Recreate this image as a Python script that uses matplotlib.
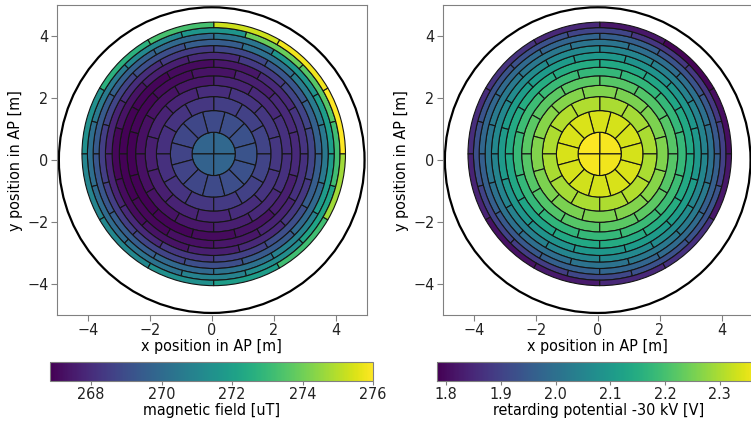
import numpy as np
import matplotlib
matplotlib.use("Agg")
import matplotlib.pyplot as plt
from matplotlib.patches import Wedge, Circle
from matplotlib.collections import PatchCollection
from matplotlib import font_manager

# ---------------- data (per detector pixel) ----------------
# bullseye: 4 quadrants (0-90, 90-180, 180-270, 270-360 deg)
# rings 1..12: 12 segments each, counter-clockwise starting at the ring's offset angle
B_bullseye = [269.9, 269.8, 269.7, 269.8]
B_rings = [
    [269.1, 269.0, 268.9, 268.8, 268.8, 268.7, 268.7, 268.8, 268.9, 269.0, 269.1, 269.2],
    [268.7, 268.6, 268.5, 268.3, 268.2, 268.1, 268.1, 268.2, 268.3, 268.4, 268.6, 268.7],
    [268.3, 268.2, 268.0, 267.8, 267.7, 267.6, 267.6, 267.7, 267.8, 268.0, 268.2, 268.3],
    [268.1, 267.9, 267.7, 267.4, 267.3, 267.2, 267.2, 267.3, 267.4, 267.6, 267.9, 268.1],
    [267.9, 267.6, 267.3, 267.1, 266.95, 266.9, 266.9, 266.95, 267.1, 267.3, 267.6, 267.9],
    [268.2, 267.9, 267.4, 267.1, 266.95, 266.9, 266.9, 267.0, 267.2, 267.4, 267.7, 268.1],
    [268.7, 268.4, 267.9, 267.6, 267.3, 267.0, 267.1, 267.3, 267.6, 267.9, 268.3, 268.7],
    [269.6, 269.3, 268.8, 268.4, 268.0, 267.7, 267.7, 267.9, 268.3, 268.6, 269.0, 269.5],
    [270.6, 270.2, 269.5, 269.0, 268.7, 268.5, 268.5, 268.7, 269.0, 269.4, 269.9, 270.5],
    [271.9, 271.6, 270.4, 269.9, 269.6, 269.4, 269.3, 269.5, 269.9, 270.3, 270.9, 271.8],
    [273.6, 273.9, 271.6, 271.1, 270.6, 270.1, 270.0, 270.3, 270.9, 271.3, 272.2, 273.2],
    [276.0, 275.8, 275.3, 273.3, 272.7, 271.4, 271.0, 271.1, 271.4, 271.9, 273.2, 274.7],
]

U_bullseye = [2.366, 2.370, 2.366, 2.362]
U_rings = [
    [2.335, 2.335, 2.338, 2.340, 2.340, 2.338, 2.335, 2.332, 2.335, 2.338, 2.340, 2.335],
    [2.298, 2.295, 2.300, 2.304, 2.306, 2.302, 2.298, 2.295, 2.298, 2.302, 2.306, 2.300],
    [2.258, 2.255, 2.260, 2.264, 2.266, 2.262, 2.258, 2.255, 2.258, 2.262, 2.266, 2.260],
    [2.218, 2.214, 2.218, 2.224, 2.226, 2.222, 2.218, 2.213, 2.218, 2.223, 2.226, 2.218],
    [2.178, 2.172, 2.178, 2.184, 2.188, 2.182, 2.176, 2.170, 2.178, 2.184, 2.188, 2.180],
    [2.138, 2.130, 2.138, 2.145, 2.150, 2.143, 2.136, 2.128, 2.137, 2.145, 2.150, 2.140],
    [2.095, 2.088, 2.098, 2.105, 2.110, 2.104, 2.095, 2.086, 2.096, 2.105, 2.110, 2.098],
    [2.048, 2.040, 2.052, 2.062, 2.068, 2.060, 2.050, 2.040, 2.052, 2.062, 2.068, 2.055],
    [2.000, 1.995, 2.010, 2.020, 2.025, 2.015, 2.005, 1.995, 2.008, 2.020, 2.025, 2.005],
    [1.945, 1.935, 1.960, 1.975, 1.985, 1.978, 1.960, 1.945, 1.962, 1.975, 1.985, 1.960],
    [1.880, 1.878, 1.905, 1.930, 1.935, 1.925, 1.900, 1.890, 1.910, 1.930, 1.935, 1.895],
    [1.805, 1.790, 1.820, 1.850, 1.870, 1.860, 1.840, 1.810, 1.825, 1.850, 1.865, 1.820],
]

B_ticks = [268, 270, 272, 274, 276]
U_ticks = [1.8, 1.9, 2.0, 2.1, 2.2, 2.3]
xy_ticks = [-4, -2, 0, 2, 4]

# ---------------- geometry / style ----------------
R_OUT = 4.25
CX, CY = 0.065, 0.2
N_RINGS = 12
radii = [R_OUT * np.sqrt((1 + 3 * n) / 37.0) for n in range(N_RINGS + 1)]
FS = 11.5
SPINE = "#808080"

names = {f.name for f in font_manager.fontManager.ttflist}
if "DejaVu Sans Condensed" in names:
    fam = ["DejaVu Sans Condensed"]
else:
    fam = ["DejaVu Sans"]
plt.rcParams["font.family"] = fam
plt.rcParams["font.stretch"] = "condensed"
plt.rcParams["font.size"] = FS

fig = plt.figure(figsize=(7.51, 4.22), dpi=100)


def draw_panel(ax, bull, rings, vmin, vmax):
    patches, vals = [], []
    for q in range(4):
        patches.append(Wedge((CX, CY), radii[0], 90 * q, 90 * (q + 1)))
        vals.append(bull[q])
    for n in range(1, N_RINGS + 1):
        off = 0.0 if n % 2 == 0 else 15.0
        r_in, r_out = radii[n - 1], radii[n]
        for k in range(12):
            t1 = off + 30 * k
            patches.append(Wedge((CX, CY), r_out, t1, t1 + 30, width=r_out - r_in))
            vals.append(rings[n - 1][k])
    pc = PatchCollection(patches, cmap="viridis", edgecolor="#151515", linewidth=0.8)
    pc.set_array(np.array(vals))
    pc.set_clim(vmin, vmax)
    ax.add_collection(pc)
    ax.add_patch(Circle((0, 0), 4.93, fill=False, edgecolor="black", linewidth=1.6))
    ax.set_xlim(-5, 5)
    ax.set_ylim(-5, 5)
    ax.set_aspect("equal")
    ax.set_xticks(xy_ticks)
    ax.set_yticks(xy_ticks)
    ax.set_xlabel("x position in AP [m]", labelpad=0.5)
    ax.set_ylabel("y position in AP [m]", labelpad=3)
    for s in ax.spines.values():
        s.set_color(SPINE)
    ax.tick_params(colors="#222222", length=4, color=SPINE, pad=2)
    return pc


ax1 = fig.add_axes([0.0755, 0.2506, 0.4128, 0.7400])
ax2 = fig.add_axes([0.5895, 0.2506, 0.4128, 0.7400])
cax1 = fig.add_axes([0.0670, 0.0960, 0.4297, 0.0450])
cax2 = fig.add_axes([0.5824, 0.0960, 0.4297, 0.0450])

pc1 = draw_panel(ax1, B_bullseye, B_rings, 266.84, 276.0)
pc2 = draw_panel(ax2, U_bullseye, U_rings, 1.784, 2.374)

cb1 = fig.colorbar(pc1, cax=cax1, orientation="horizontal", ticks=B_ticks)
cb1.set_label("magnetic field [uT]", labelpad=0.5)
cb2 = fig.colorbar(pc2, cax=cax2, orientation="horizontal", ticks=U_ticks)
cb2.ax.set_xticklabels([f"{v:.1f}" for v in U_ticks])
cb2.set_label("retarding potential -30 kV [V]", labelpad=0.5)
for cb in (cb1, cb2):
    cb.outline.set_edgecolor(SPINE)
    cb.ax.tick_params(colors="#222222", length=3, color=SPINE, pad=1)

fig.savefig("out.png", dpi=100)
